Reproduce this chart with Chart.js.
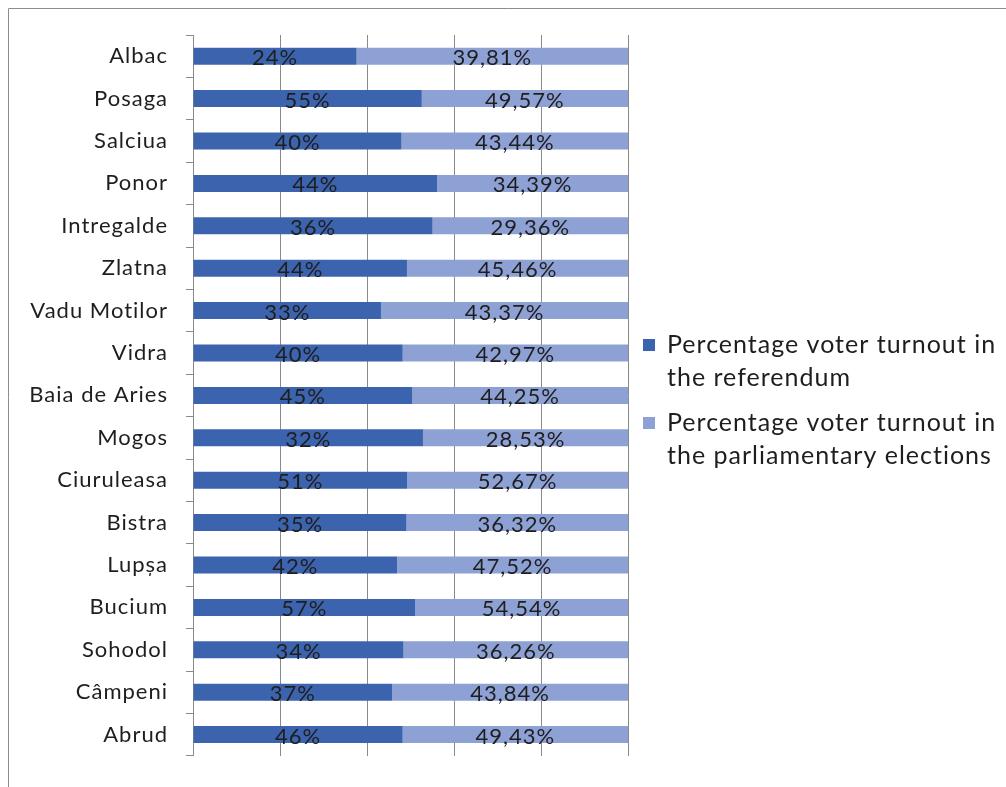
<!DOCTYPE html>
<html>
<head>
<meta charset="utf-8">
<script src="https://cdn.jsdelivr.net/npm/chart.js@4"></script>
<style>
    body { margin: 0; background: #fff; }
    canvas { display: block; }
</style>
</head>
<body>
<canvas id="turnoutChart" width="1006" height="787"></canvas>
<script>
    // Communes, top to bottom
    const communes = ['Albac', 'Posaga', 'Salciua', 'Ponor', 'Intregalde', 'Zlatna', 'Vadu Motilor', 'Vidra',
        'Baia de Aries', 'Mogos', 'Ciuruleasa', 'Bistra', 'Lupșa', 'Bucium', 'Sohodol', 'Câmpeni', 'Abrud'];
    const referendumTurnout = [24, 55, 40, 44, 36, 44, 33, 40, 45, 32, 51, 35, 42, 57, 34, 37, 46];
    const electionTurnout = [39.81, 49.57, 43.44, 34.39, 29.36, 45.46, 43.37, 42.97, 44.25, 28.53, 52.67, 36.32, 47.52, 54.54, 36.26, 43.84, 49.43];
    const seriesNames = [
        ['Percentage voter turnout in', 'the referendum'],
        ['Percentage voter turnout in', 'the parliamentary elections']
    ];
    const xTicks = [0, 20, 40, 60, 80, 100];

    const FONT = 'Lato, "Open Sans", sans-serif';
    const DARK = '#3c63ad';
    const LIGHT = '#8ea1d4';
    const GRID = '#8a8a8a';
    const TEXT = '#1e1e1e';

    // 100% stacked: each bar shows its share of the row total
    function shareOf(values, i) {
        const total = referendumTurnout[i] + electionTurnout[i];
        return values[i] / total * 100;
    }

    function formatValue(v) {
        return (Number.isInteger(v) ? String(v) : v.toFixed(2).replace('.', ',')) + '%';
    }

    // the original text is set a little wide, so space the letters out
    const letterSpacing = {
        id: 'letterSpacing',
        beforeDraw(chart) { chart.ctx.letterSpacing = '1px'; },
        afterDraw(chart) { chart.ctx.letterSpacing = '0px'; }
    };

    // writes the raw values in the middle of each segment
    const segmentLabels = {
        id: 'segmentLabels',
        afterDatasetsDraw(chart) {
            const ctx = chart.ctx;
            ctx.save();
            ctx.letterSpacing = '1px';
            ctx.font = '22px ' + FONT;
            ctx.fillStyle = TEXT;
            ctx.textAlign = 'center';
            ctx.textBaseline = 'middle';
            chart.data.datasets.forEach((ds, di) => {
                chart.getDatasetMeta(di).data.forEach((bar, i) => {
                    const left = Math.min(bar.x, bar.base);
                    const right = Math.max(bar.x, bar.base);
                    ctx.fillText(formatValue(ds.raw[i]), (left + right) / 2, bar.y + 2);
                });
            });
            ctx.restore();
        }
    };

    // legend on the right with wrapped text, plus the frame
    const sideLegend = {
        id: 'sideLegend',
        afterDraw(chart) {
            const ctx = chart.ctx;
            ctx.save();
            ctx.strokeStyle = '#8c8c8c';
            ctx.lineWidth = 1;
            ctx.beginPath();
            ctx.moveTo(8.5, 787);
            ctx.lineTo(8.5, 8.5);
            ctx.lineTo(1006, 8.5);
            ctx.stroke();

            ctx.letterSpacing = '1px';
            ctx.font = '25px ' + FONT;
            ctx.textBaseline = 'middle';
            const starts = [345, 423];
            chart.data.datasets.forEach((ds, di) => {
                const y = starts[di];
                ctx.fillStyle = ds.backgroundColor;
                ctx.fillRect(643, y - 6, 12, 12);
                ctx.fillStyle = TEXT;
                seriesNames[di].forEach((line, li) => {
                    ctx.fillText(line, 667, y + li * 33);
                });
            });
            ctx.restore();
        }
    };

    const ctx = document.getElementById('turnoutChart').getContext('2d');
    new Chart(ctx, {
        type: 'bar',
        data: {
            labels: communes,
            datasets: [{
                label: seriesNames[0].join(' '),
                data: communes.map((c, i) => shareOf(referendumTurnout, i)),
                raw: referendumTurnout,
                backgroundColor: DARK
            }, {
                label: seriesNames[1].join(' '),
                data: communes.map((c, i) => shareOf(electionTurnout, i)),
                raw: electionTurnout,
                backgroundColor: LIGHT
            }]
        },
        options: {
            indexAxis: 'y',
            responsive: false,
            animation: false,
            barPercentage: 0.4,
            categoryPercentage: 1,
            layout: { padding: { top: 35, bottom: 25, right: 378, left: 0 } },
            plugins: {
                legend: { display: false },
                tooltip: { enabled: false }
            },
            scales: {
                x: {
                    stacked: true,
                    min: 0,
                    max: 100,
                    afterBuildTicks: scale => { scale.ticks = xTicks.map(v => ({ value: v })); },
                    afterFit: scale => { scale.height = 0; },
                    ticks: { display: false },
                    grid: { color: GRID, drawTicks: false },
                    border: { display: false }
                },
                y: {
                    stacked: true,
                    afterFit: scale => { scale.width = 193; },
                    ticks: {
                        color: TEXT,
                        font: { family: FONT, size: 22 },
                        padding: 18
                    },
                    grid: { drawOnChartArea: false, tickLength: 7, tickColor: GRID },
                    border: { color: GRID }
                }
            }
        },
        plugins: [letterSpacing, segmentLabels, sideLegend]
    });
</script>
</body>
</html>
